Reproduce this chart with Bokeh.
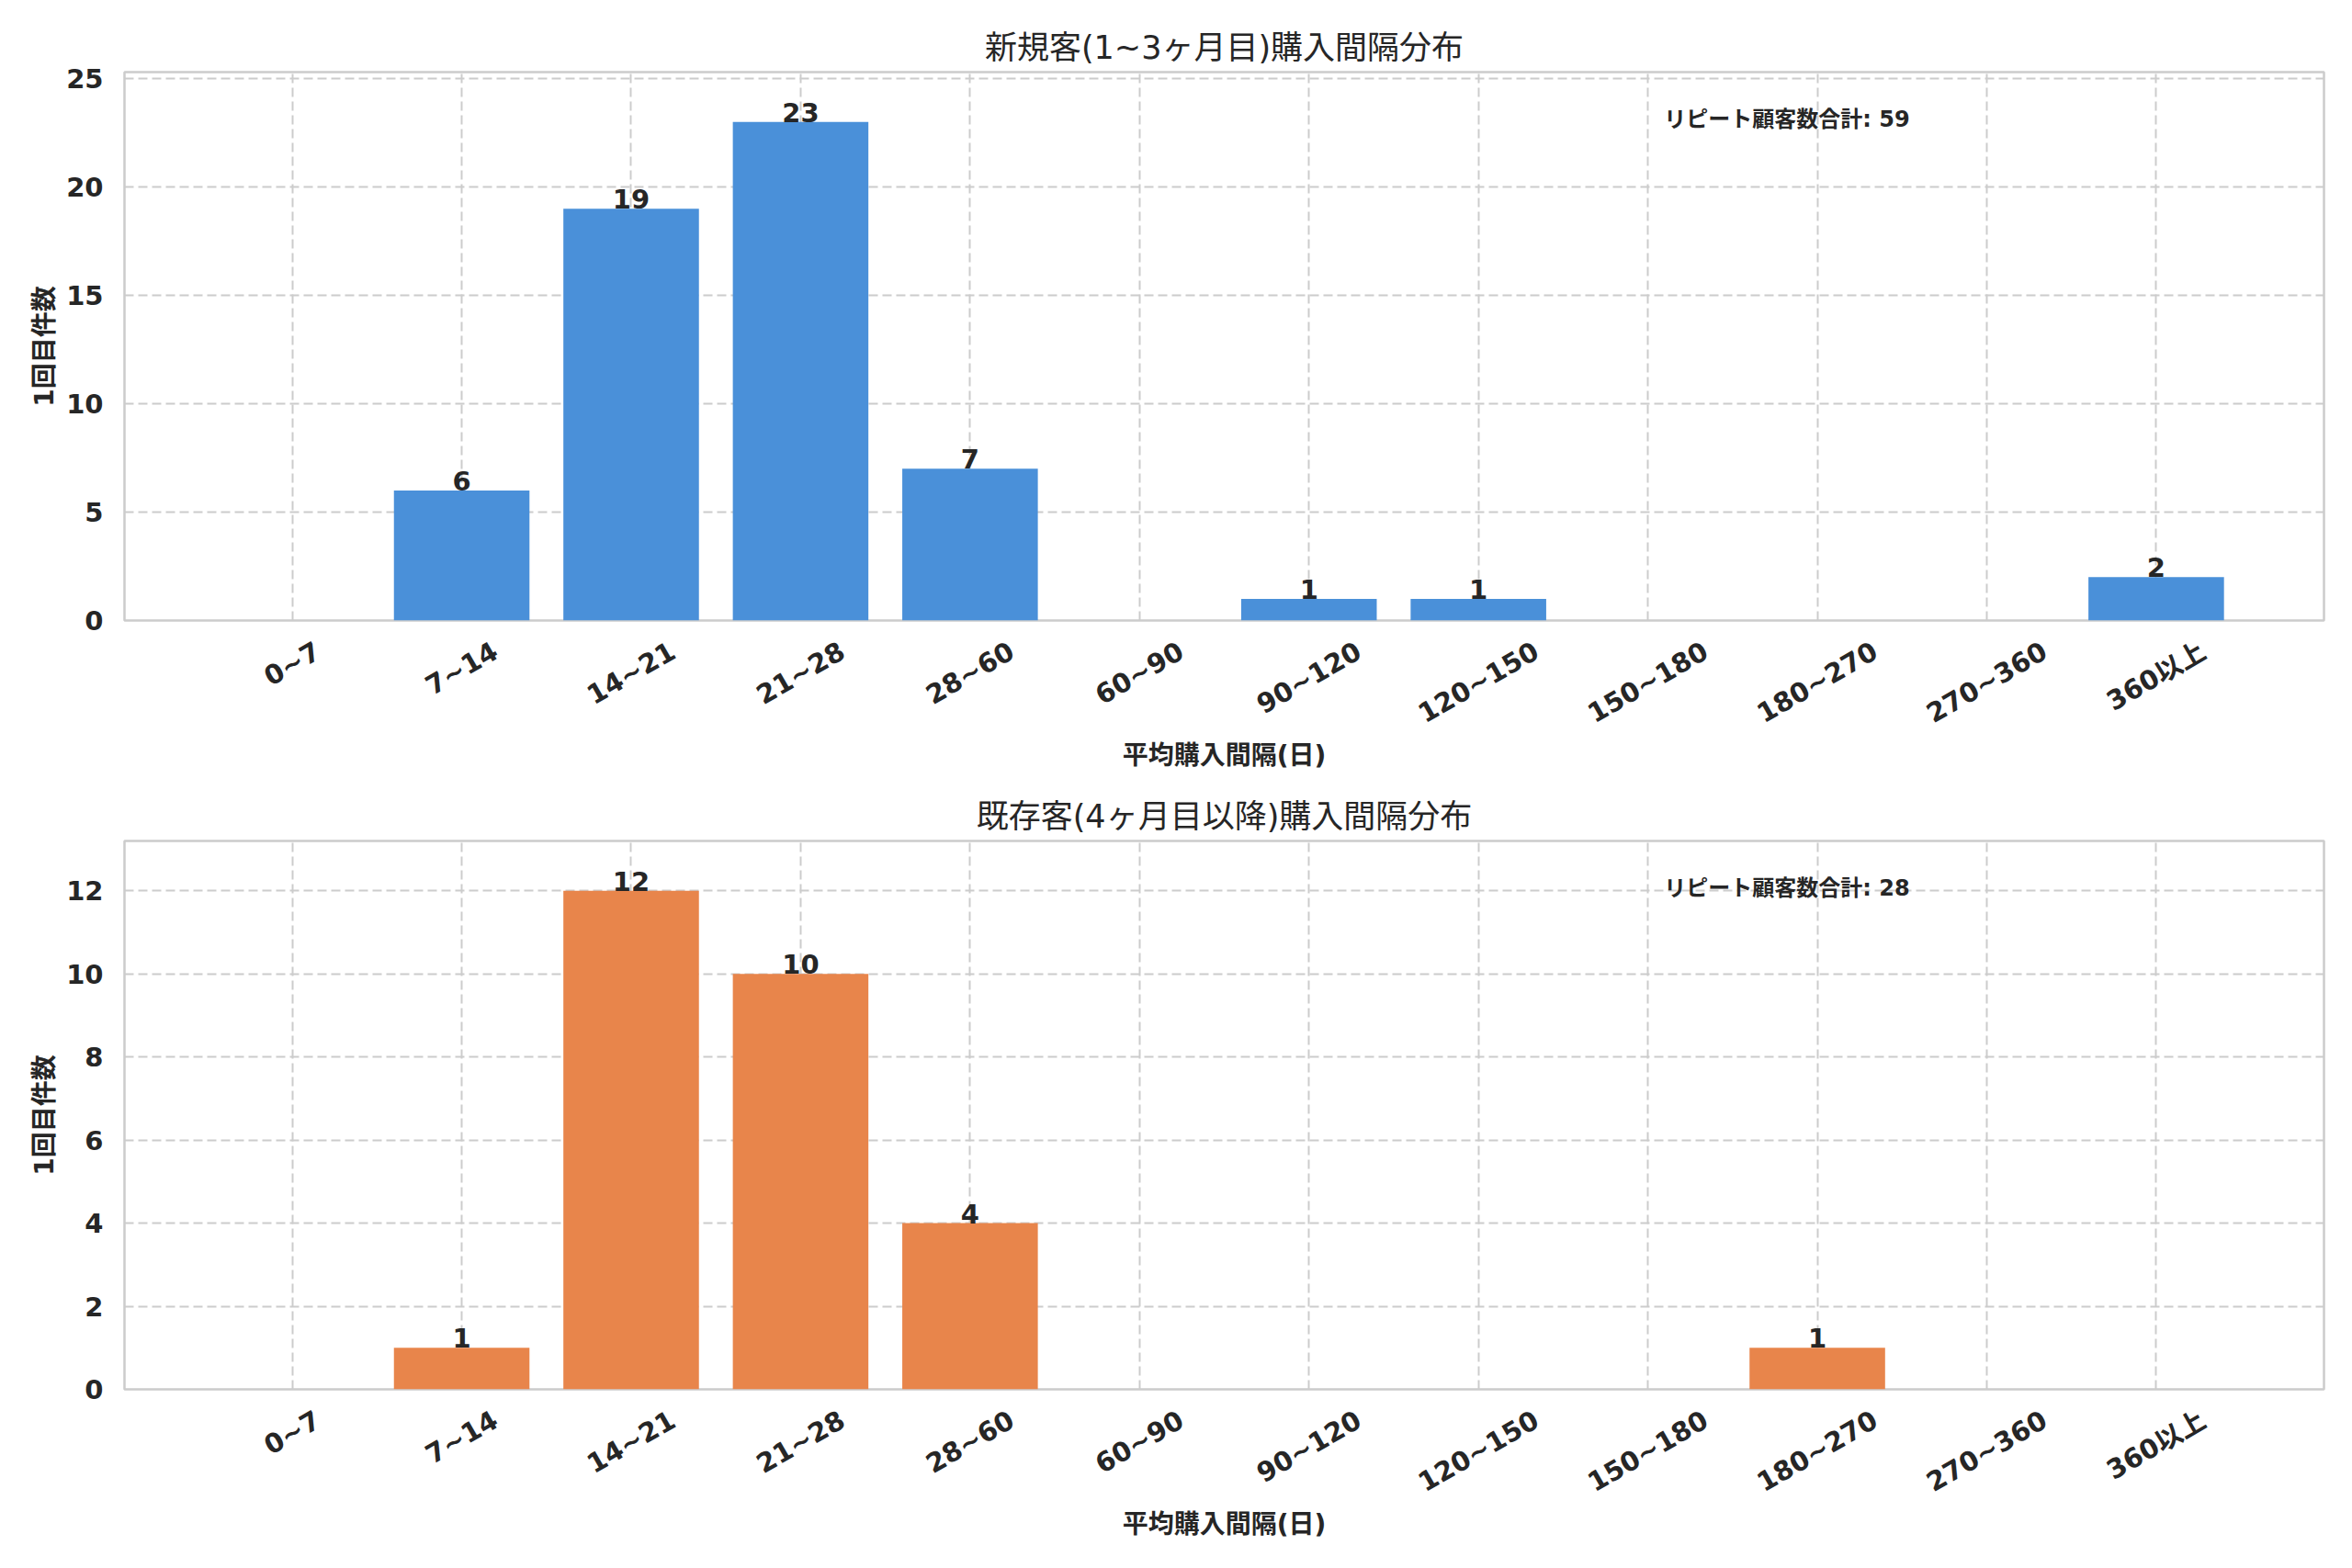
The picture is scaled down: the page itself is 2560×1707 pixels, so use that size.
import math
from bokeh.plotting import figure
from bokeh.layouts import column
from bokeh.models import Range1d, FixedTicker, Label, LabelSet, ColumnDataSource
from bokeh.embed import file_html
from bokeh.resources import INLINE
from bokeh.core.properties import value

# ---- data ----
categories = ["0~7", "7~14", "14~21", "21~28", "28~60", "60~90", "90~120",
              "120~150", "150~180", "180~270", "270~360", "360以上"]
counts_early = [0, 6, 19, 23, 7, 0, 1, 1, 0, 0, 0, 2]
counts_late = [0, 1, 12, 10, 4, 0, 0, 0, 0, 1, 0, 0]
title_early = "新規客(1~3ヶ月目)購入間隔分布"
title_late = "既存客(4ヶ月目以降)購入間隔分布"
x_label = "平均購入間隔(日)"
y_label = "1回目件数"
total_label = "リピート顧客数合計"
yticks_early = [0, 5, 10, 15, 20, 25]
yticks_late = [0, 2, 4, 6, 8, 10, 12]
color_early = "#4A90D9"
color_late = "#E8854B"

FONT = "DejaVu Sans, Noto Sans CJK JP"
TXT = "#262626"
GRID = "#cccccc"
TICK_PX = 29
ANGLE = math.pi / 6
FRAME_W = 2394


def est_width(s, px):
    w = 0.0
    for ch in s:
        if ch.isdigit():
            w += 0.696
        elif ch == "~":
            w += 0.838
        else:
            w += 1.0
    return w * px


def make_panel(counts, title, color, yticks, top_border, bottom_border):
    idx = list(range(len(categories)))
    ymax = max(counts) * 1.1
    xr = Range1d(-0.99, len(categories) - 1 + 0.99)
    p = figure(frame_width=FRAME_W, frame_height=597,
               x_range=xr, y_range=Range1d(0, ymax),
               output_backend="svg", toolbar_location=None,
               min_border_left=135, min_border_right=15,
               min_border_top=top_border, min_border_bottom=bottom_border,
               background_fill_color="white", border_fill_color="white")
    p.title.text = title
    p.title.align = "center"
    p.title.text_font = FONT
    p.title.text_font_size = "35px"
    p.title.text_font_style = "normal"
    p.title.text_color = TXT
    p.title.standoff = 13

    p.vbar(x=idx, top=counts, width=0.8, bottom=0,
           fill_color=color, line_color=None)

    nz_x = [i for i, c in zip(idx, counts) if c > 0]
    nz_y = [c for c in counts if c > 0]
    src = ColumnDataSource(dict(x=nz_x, y=nz_y, t=[str(c) for c in nz_y]))
    p.add_layout(LabelSet(x="x", y="y", text="t", source=src,
                          text_align="center", text_baseline="alphabetic",
                          text_font=value(FONT), text_font_size=value("29px"),
                          text_font_style="bold", text_color=TXT))

    x0, x1 = xr.start, xr.end
    p.add_layout(Label(x=x0 + 0.7 * (x1 - x0), y=0.95 * ymax,
                       text=f"{total_label}: {sum(counts)}",
                       text_align="left", text_baseline="top",
                       text_font=FONT, text_font_size="24px",
                       text_font_style="bold", text_color=TXT, y_offset=-8))

    # Bokeh anchors rotated labels at their end; shift each tick so that the
    # label is centred under its category (as in the original)
    px_per_unit = FRAME_W / (x1 - x0)
    label_ticks = []
    overrides = {}
    for i, cat in zip(idx, categories):
        w = est_width(cat, TICK_PX)
        t = round(i + (w / 2) * math.cos(ANGLE) / px_per_unit, 4)
        label_ticks.append(t)
        overrides[t] = cat
    p.xaxis.ticker = FixedTicker(ticks=label_ticks)
    p.xaxis.major_label_overrides = overrides
    p.xaxis.major_label_orientation = ANGLE
    p.yaxis.ticker = FixedTicker(ticks=yticks)
    p.xgrid.ticker = FixedTicker(ticks=idx)
    p.ygrid.ticker = FixedTicker(ticks=yticks)

    for ax in (p.xaxis[0], p.yaxis[0]):
        ax.major_tick_in = 0
        ax.major_tick_out = 0
        ax.minor_tick_in = 0
        ax.minor_tick_out = 0
        ax.axis_line_color = None
        ax.major_label_text_font = FONT
        ax.major_label_text_font_size = f"{TICK_PX}px"
        ax.major_label_text_font_style = "bold"
        ax.major_label_text_color = TXT
        ax.axis_label_text_font = FONT
        ax.axis_label_text_font_size = "28px"
        ax.axis_label_text_font_style = "bold"
        ax.axis_label_text_color = TXT
    p.xaxis.axis_label = x_label
    p.yaxis.axis_label = y_label
    p.xaxis.major_label_standoff = 31
    p.xaxis.axis_label_standoff = -6
    p.yaxis.major_label_standoff = 23
    p.yaxis.axis_label_standoff = 4

    for g in (p.xgrid[0], p.ygrid[0]):
        g.grid_line_color = GRID
        g.grid_line_width = 2
        g.grid_line_dash = "10 5"

    p.outline_line_color = GRID
    p.outline_line_width = 2.5
    return p


p1 = make_panel(counts_early, title_early, color_early, yticks_early, 78, 163)
p2 = make_panel(counts_late, title_late, color_late, yticks_late, 74, 170)
layout = column(p1, p2, spacing=0)

open("out.html", "w").write(file_html(layout, INLINE))
